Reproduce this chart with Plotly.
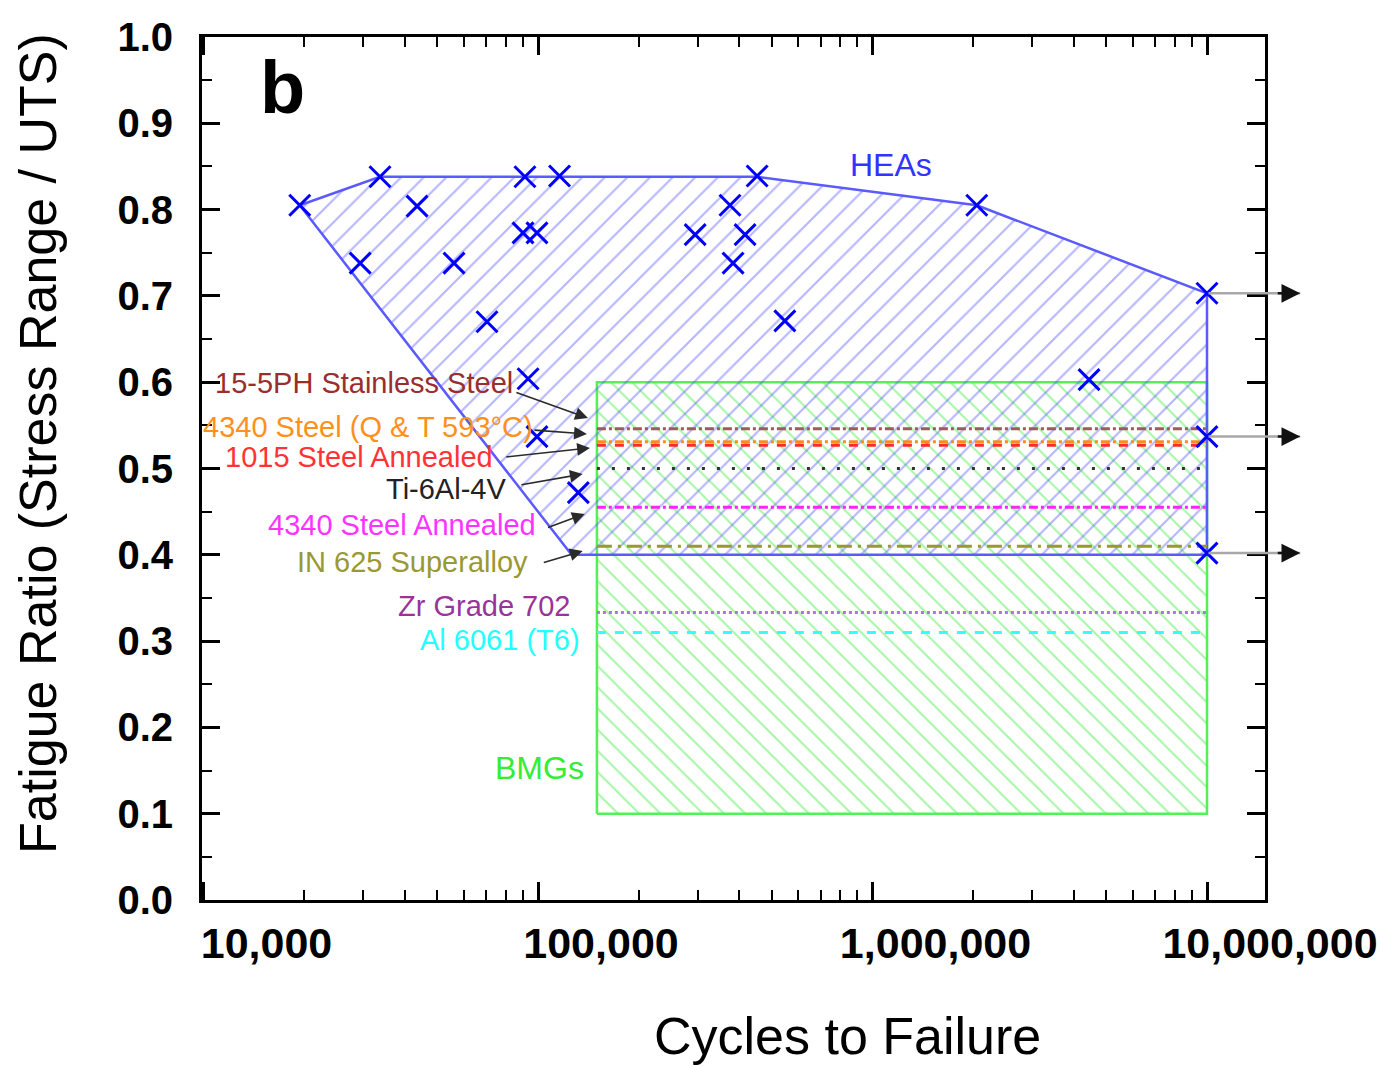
import numpy as np
import plotly.graph_objects as go

# ---------------- data ----------------
hea_cycles = [19400, 33700, 43500, 29400, 56100, 70400, 91400, 116000, 90200, 99300,
              93400, 99300, 132000, 295000, 375000, 416000, 383000, 452000, 547000,
              2050000, 4440000, 1e7, 1e7, 1e7]
hea_ratio = [0.805, 0.838, 0.804, 0.738, 0.738, 0.670, 0.838, 0.839, 0.773, 0.773,
             0.604, 0.537, 0.472, 0.771, 0.805, 0.771, 0.738, 0.839, 0.671,
             0.805, 0.603, 0.703, 0.537, 0.402]

hea_env_cycles = [19400, 33700, 452000, 2050000, 1e7, 1e7, 126000, 19400]
hea_env_ratio = [0.805, 0.838, 0.838, 0.805, 0.703, 0.400, 0.400, 0.805]

bmg_cycles = [150000, 1e7, 1e7, 150000, 150000]
bmg_ratio = [0.1, 0.1, 0.6, 0.6, 0.1]

materials = ["15-5PH Stainless Steel", "4340 Steel (Q & T 593°C)", "1015 Steel Annealed",
             "Ti-6Al-4V", "4340 Steel Annealed", "IN 625 Superalloy",
             "Zr Grade 702", "Al 6061 (T6)"]
material_ratio = [0.546, 0.531, 0.527, 0.500, 0.455, 0.410, 0.333, 0.310]
material_cycles = [150000, 1e7]

runout_ratio = [0.703, 0.537, 0.402]
runout_cycles = [1e7, 1.9e7]

x_tickvals = [1e4, 1e5, 1e6, 1e7]
x_ticktext = ["10,000", "100,000", "1,000,000", "10,000,000"]

# ---------------- styles ----------------
FONT = "Liberation Sans, Arial, sans-serif"
X_RANGE = [3.9955, 7.1734]
mat_colors = ["#A05A5A", "#FF8C1A", "#FF2A2A", "#333333", "#FF22FF", "#999933", "#B070F0", "#33FFFF"]
mat_dash = ["dashdot", "dashdot", "dash", "3px,12px", "dashdot", "longdashdot", "dot", "dash"]
label_colors = ["#9B2D2D", "#FF9020", "#FF3333", "#222222", "#FF33FF", "#999933", "#993399", "#22FFFF"]
label_x = [85300, 97900, 74300, 81300, 100000, 94600, 126000, 135000]
label_y = [0.599, 0.548, 0.513, 0.476, 0.4345, 0.3917, 0.3407, 0.3013]
arrow_tail_x = [85300, 96600, 79600, 88300, 106000, 103000]
arrow_tail_y = [0.5886, 0.5446, 0.5133, 0.4809, 0.4311, 0.3905]
arrow_tip_x = [141000, 140000, 143000, 136000, 138000, 136000]
arrow_tip_y = [0.5585, 0.540, 0.5238, 0.4936, 0.4473, 0.4044]


def x_paper(v):
    return (np.log10(v) - X_RANGE[0]) / (X_RANGE[1] - X_RANGE[0])


fig = go.Figure()

# BMG region
fig.add_trace(go.Scatter(
    x=bmg_cycles, y=bmg_ratio, mode="lines", fill="toself",
    fillcolor="rgba(0,0,0,0)",
    fillpattern=dict(shape="\\", fgcolor="rgba(60,235,60,0.9)", bgcolor="rgba(0,0,0,0)",
                     size=15, solidity=0.14),
    line=dict(color="#55F055", width=2.5), hoverinfo="skip", showlegend=False))

# HEA region
fig.add_trace(go.Scatter(
    x=hea_env_cycles, y=hea_env_ratio, mode="lines", fill="toself",
    fillcolor="rgba(0,0,0,0)",
    fillpattern=dict(shape="/", fgcolor="rgba(80,80,255,0.85)", bgcolor="rgba(0,0,0,0)",
                     size=16, solidity=0.13),
    line=dict(color="#5A5AFF", width=2.5), hoverinfo="skip", showlegend=False))

# reference material lines
for i, r in enumerate(material_ratio):
    fig.add_trace(go.Scatter(
        x=material_cycles, y=[r, r], mode="lines",
        line=dict(color=mat_colors[i], width=3, dash=mat_dash[i]),
        name=materials[i], showlegend=False))

# HEA data points
fig.add_trace(go.Scatter(
    x=hea_cycles, y=hea_ratio, mode="markers",
    marker=dict(symbol="x-thin", size=21, line=dict(width=3, color="#0000FF"), color="#0000FF"),
    name="HEAs", showlegend=False))

annotations = []
# material labels
for i, name in enumerate(materials):
    annotations.append(dict(
        x=np.log10(label_x[i]), y=label_y[i], xref="x", yref="y", text=name,
        showarrow=False, xanchor="right", yanchor="middle",
        font=dict(family=FONT, size=29, color=label_colors[i])))
# label arrows
for i in range(len(arrow_tip_x)):
    annotations.append(dict(
        x=np.log10(arrow_tip_x[i]), y=arrow_tip_y[i],
        ax=np.log10(arrow_tail_x[i]), ay=arrow_tail_y[i],
        xref="x", yref="y", axref="x", ayref="y", text="",
        showarrow=True, arrowhead=2, arrowsize=1.6, arrowwidth=1.6, arrowcolor="#2a2a2a"))
# runout arrows (gray shaft, black head)
for r in runout_ratio:
    annotations.append(dict(
        x=x_paper(runout_cycles[1]), y=r, xref="paper", yref="y",
        ax=-(x_paper(runout_cycles[1]) - x_paper(runout_cycles[0])) * 1063, ay=0,
        text="", showarrow=True, arrowhead=0, arrowwidth=2.5, arrowcolor="#A8A8A8"))
    annotations.append(dict(
        x=x_paper(runout_cycles[1]), y=r, xref="paper", yref="y",
        ax=-24, ay=0, text="", showarrow=True, arrowhead=2, arrowsize=1.5,
        arrowwidth=2.5, arrowcolor="#111111"))

annotations += [
    dict(x=np.log10(1136000), y=0.8517, xref="x", yref="y", text="HEAs", showarrow=False,
         xanchor="center", yanchor="middle", font=dict(family=FONT, size=32, color="#3333FF")),
    dict(x=np.log10(139000), y=0.153, xref="x", yref="y", text="BMGs", showarrow=False,
         xanchor="right", yanchor="middle", font=dict(family=FONT, size=32, color="#33EE33")),
    dict(x=0.0753, y=0.942, xref="paper", yref="paper", text="<b>b</b>", showarrow=False,
         xanchor="center", yanchor="middle", font=dict(family=FONT, size=74, color="black")),
    # axis titles
    dict(x=0.6077, y=-0.1576, xref="paper", yref="paper", text="Cycles to Failure",
         showarrow=False, xanchor="center", yanchor="middle",
         font=dict(family=FONT, size=52, color="black")),
    dict(x=-0.1543, y=0.5296, xref="paper", yref="paper",
         text="Fatigue Ratio (Stress Range / UTS)", textangle=-90,
         showarrow=False, xanchor="center", yanchor="middle",
         font=dict(family=FONT, size=52, color="black")),
]

axis_common = dict(showline=True, linecolor="black", linewidth=3, mirror="allticks",
                   ticks="inside", ticklen=18, tickwidth=2.5, tickcolor="black",
                   showgrid=False, zeroline=False, automargin=False)

fig.update_layout(
    width=1389, height=1068,
    margin=dict(l=202, r=124, t=37, b=168),
    paper_bgcolor="white", plot_bgcolor="white",
    showlegend=False,
    annotations=annotations,
    font=dict(family=FONT, color="black"),
    xaxis=dict(type="log", range=X_RANGE,
               tickvals=x_tickvals, ticktext=x_ticktext,
               tickfont=dict(family=FONT, size=43, color="black", weight="bold"),
               ticklabelshift=63, ticklabelstandoff=3,
               minor=dict(ticks="inside", ticklen=10, tickwidth=2, tickcolor="black", dtick="D1"),
               **axis_common),
    yaxis=dict(range=[0, 1], dtick=0.1, tickformat=".1f",
               tickfont=dict(family=FONT, size=40, color="black", weight="bold"),
               ticklabelstandoff=18,
               minor=dict(ticks="inside", ticklen=10, tickwidth=2, tickcolor="black", dtick=0.05),
               **axis_common),
)

fig.write_html("out.html")
